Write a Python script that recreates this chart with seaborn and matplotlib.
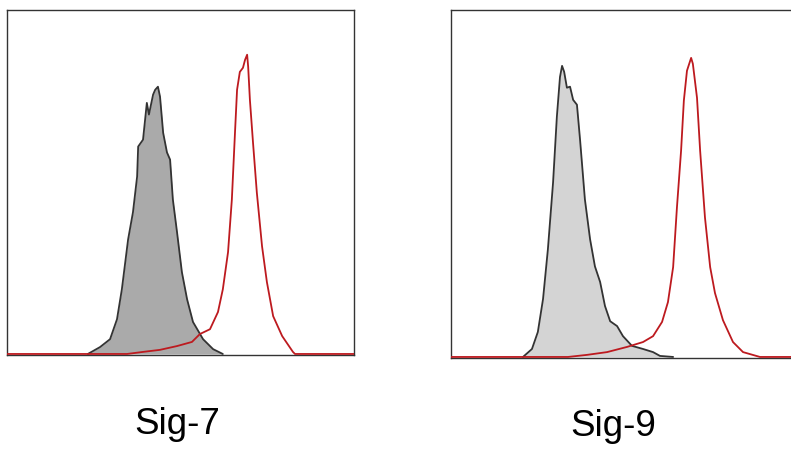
import numpy as np
import pandas as pd
import matplotlib
matplotlib.use("Agg")
import matplotlib.pyplot as plt
import seaborn as sns

sns.set_style("white")
plt.rcParams['font.family'] = ['Liberation Sans', 'DejaVu Sans']

# Panel labels
panel_labels = ["Sig-7", "Sig-9"]

# Sig-7: isotype control (grey, filled)
sig7_ctrl_x = [23.3, 26.8, 29.7, 31.7, 33.1, 34.9, 36.3, 37.5, 37.8, 39.2, 40.3, 40.9, 42.1, 42.7,
               43.5, 44.1, 45.0, 46.1, 47.0, 47.8, 49.0, 50.4, 51.9, 53.6, 56.5, 59.4, 62.2]
sig7_ctrl_y = [0.0, 2.0, 4.3, 10.1, 18.8, 33.3, 41.2, 51.6, 60.3, 62.3, 73.0, 69.6, 75.4, 76.8,
               77.7, 74.8, 64.3, 58.6, 56.5, 44.9, 35.4, 23.8, 15.9, 9.3, 4.3, 1.4, 0.0]
# Sig-7: stained sample (red line)
sig7_stain_x = [0.0, 34.6, 39.2, 44.1, 49.0, 53.3, 55.6, 58.5, 60.8, 62.2, 63.7, 64.8, 65.7, 66.3,
                67.1, 68.0, 68.6, 69.2, 69.5, 70.0, 70.9, 72.0, 73.5, 74.9, 76.7, 79.3, 82.4, 83.0, 100.0]
sig7_stain_y = [0.0, 0.0, 0.6, 1.2, 2.3, 3.5, 5.8, 7.2, 12.2, 18.8, 29.6, 44.9, 64.3, 76.8,
                82.0, 83.2, 85.5, 87.0, 83.5, 73.9, 61.4, 46.9, 31.3, 20.9, 11.0, 5.2, 0.6, 0.0, 0.0]

# Sig-9: isotype control (grey, filled)
sig9_ctrl_x = [20.8, 23.4, 25.1, 26.6, 28.0, 29.5, 30.6, 31.5, 32.1, 32.7, 33.5, 34.4, 35.3, 36.4,
               37.3, 38.7, 40.2, 41.6, 43.1, 44.5, 46.0, 48.0, 49.7, 52.3, 55.5, 58.4, 60.4, 64.2]
sig9_ctrl_y = [0.0, 2.3, 7.2, 16.7, 31.0, 50.3, 69.3, 80.7, 83.9, 82.2, 77.6, 77.9, 74.1, 72.7,
               62.6, 45.4, 33.9, 26.1, 21.6, 14.7, 10.3, 8.9, 6.0, 3.2, 2.3, 1.4, 0.3, 0.0]
# Sig-9: stained sample (red line)
sig9_stain_x = [0.0, 33.8, 39.3, 45.1, 50.9, 55.5, 58.4, 61.0, 62.7, 64.2, 65.3, 66.5, 67.3, 68.2,
                69.4, 69.9, 71.1, 72.0, 73.4, 74.9, 76.3, 78.6, 81.5, 84.4, 89.3, 100.0]
sig9_stain_y = [0.0, 0.0, 0.6, 1.4, 2.9, 4.3, 6.0, 10.1, 15.8, 25.9, 43.1, 59.5, 73.9, 82.5,
                86.2, 84.5, 74.7, 59.5, 40.2, 25.9, 18.4, 10.6, 4.3, 1.4, 0.0, 0.0]

fill_colors = ["#aaaaaa", "#d4d4d4"]
red = "#bd1a1f"
edge = "#333333"

fig = plt.figure(figsize=(7.91, 4.51), dpi=100)
W, H = 791, 451
boxes = [(7, 355, 347, 345), (451, 358, 346, 348)]  # left, bottom(px from top), width, height
label_pos = [(177, 424), (613, 426)]

panels = [
    (sig7_ctrl_x, sig7_ctrl_y, sig7_stain_x, sig7_stain_y),
    (sig9_ctrl_x, sig9_ctrl_y, sig9_stain_x, sig9_stain_y),
]

for i, (cx, cy, sx, sy) in enumerate(panels):
    l, b, w, h = boxes[i]
    ax = fig.add_axes([l / W, 1 - b / H, w / W, h / H])
    ctrl = pd.DataFrame({"x": cx, "y": cy})
    stain = pd.DataFrame({"x": sx, "y": sy})
    ax.fill_between(ctrl["x"], ctrl["y"], 0, color=fill_colors[i], linewidth=0, zorder=1)
    sns.lineplot(data=ctrl, x="x", y="y", ax=ax, color=edge, linewidth=1.3,
                 estimator=None, sort=False, zorder=2)
    sns.lineplot(data=stain, x="x", y="y", ax=ax, color=red, linewidth=1.3,
                 estimator=None, sort=False, zorder=3)
    ax.set_xlim(0, 100)
    ax.set_ylim(-0.3, 100)
    ax.set_xticks([])
    ax.set_yticks([])
    ax.set_xlabel("")
    ax.set_ylabel("")
    for sp in ax.spines.values():
        sp.set_visible(True)
        sp.set_color("#333333")
        sp.set_linewidth(1.0)
    fig.text(label_pos[i][0] / W, 1 - label_pos[i][1] / H, panel_labels[i],
             ha="center", va="center", fontsize=26.5, color="black")

fig.savefig("out.png", dpi=100, facecolor="white")
